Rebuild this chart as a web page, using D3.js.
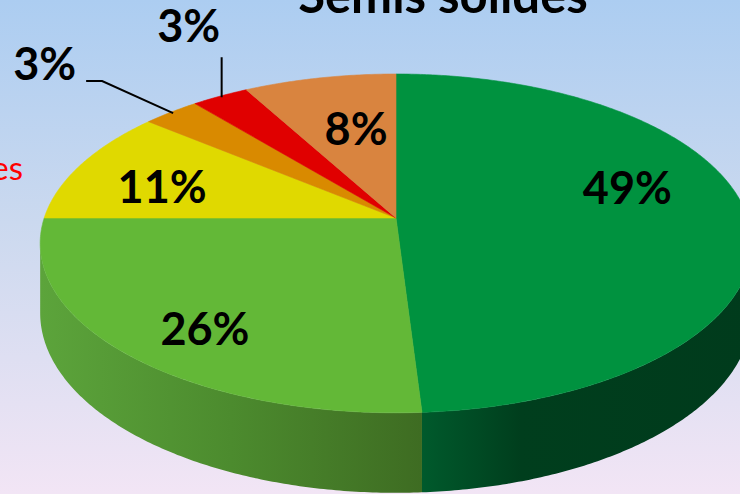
<!DOCTYPE html>
<html>
<head>
<meta charset="utf-8">
<script src="https://cdn.jsdelivr.net/npm/d3@7"></script>
<style>
  html, body { margin: 0; padding: 0; }
  body { width: 740px; height: 494px; overflow: hidden; }
</style>
</head>
<body>
<script>
// slice data, clockwise from 12 o'clock
var shares = [49, 26, 11, 3, 3, 8];
var labels = ["49%", "26%", "11%", "3%", "3%", "8%"];
var title = "Semis solides";
var legendBit = "es"; // the only visible part of a cut-off red legend text

// colours for top faces and the side walls (left -> right)
var topColors = ["#00923f", "#63b837", "#e0d900", "#d98a00", "#e00000", "#d9843f"];
var sideColors = [["#005a2c", "#003e1d", "#003b1c"], ["#5ca43b", "#4c8b2e", "#3e6c22"],
                  ["#b0aa00", "#9a9400", "#8a8500"], ["#a86b00", "#a06500", "#985f00"],
                  ["#b00000", "#a00000", "#900000"], ["#a86430", "#a05f2c", "#985a28"]];

var w = 740, h = 494;

// projection of the tilted disc (with a bit of perspective)
var cx = 396, cy = 218; // where the slices meet
var A = 351.8, B = 165.6; // horizontal / depth radius
var persp = 0.15;
var depth = 68; // wall height

function proj(theta, r, z) { // theta from 12 o'clock, clockwise
  var u = r * Math.sin(theta), v = -r * Math.cos(theta);
  var k = 1 / (1 - persp * v);
  return [cx + A * u * k, cy + (B * v + depth * z) * k];
}

var svg = d3.select("body").append("svg")
  .attr("width", w)
  .attr("height", h);

var defs = svg.append("defs");

var bg = defs.append("linearGradient")
  .attr("id", "bg")
  .attr("x1", 0).attr("y1", 0).attr("x2", 0).attr("y2", 1);
bg.append("stop").attr("offset", 0).attr("stop-color", "#accdf1");
bg.append("stop").attr("offset", 0.45).attr("stop-color", "#cbd9ef");
bg.append("stop").attr("offset", 1).attr("stop-color", "#f2e5f5");

svg.append("rect")
  .attr("width", w)
  .attr("height", h)
  .attr("fill", "url(#bg)");

var pie = d3.pie().sort(null).value(function(d) { return d; });
var arcs = pie(shares);

var line = d3.line();

function arcPoints(a0, a1, r, z) {
  var n = Math.max(2, Math.ceil((a1 - a0) / 0.01));
  return d3.range(n + 1).map(function(i) {
    return proj(a0 + (a1 - a0) * i / n, r, z);
  });
}

// silhouette angles (left/right outline of the disc)
var thR = Math.acos(-persp), thL = 2 * Math.PI - Math.acos(-persp);

// side walls
arcs.forEach(function(d, i) {
  var a0 = Math.max(d.startAngle, thR), a1 = Math.min(d.endAngle, thL);
  if (a1 <= a0) return;
  var topPts = arcPoints(a0, a1, 1, 0);
  var botPts = arcPoints(a0, a1, 1, 1).reverse();
  var xs = topPts.map(function(p) { return p[0]; });
  var x0 = d3.min(xs), x1 = d3.max(xs);

  var g = defs.append("linearGradient")
    .attr("id", "side" + i)
    .attr("gradientUnits", "userSpaceOnUse")
    .attr("x1", i == 0 ? x0 : x1).attr("x2", i == 0 ? x1 : x0)
    .attr("y1", 0).attr("y2", 0);
  // green wall: dark quickly; light green wall: lighter on the left
  var offs = i == 0 ? [0, 0.3, 1] : [0, 0.5, 1];
  var cols = i == 0 ? sideColors[i] : sideColors[i].slice().reverse();
  offs.forEach(function(o, j) {
    g.append("stop").attr("offset", o).attr("stop-color", cols[j]);
  });

  svg.append("path")
    .attr("d", line(topPts.concat(botPts)) + "Z")
    .attr("fill", "url(#side" + i + ")");
});

// top faces
arcs.forEach(function(d, i) {
  var pts = [proj(0, 0, 0)].concat(arcPoints(d.startAngle, d.endAngle, 1, 0));
  svg.append("path")
    .attr("d", line(pts) + "Z")
    .attr("fill", topColors[i])
    .attr("stroke", topColors[i])
    .attr("stroke-width", 0.6);
});

// label placement (manual, like the original)
var labelR = [0.66, 0.73, 0.733, 0.99, 0.99, 0.489];
var labelDy = [-11, 31, 25, 0, 0, 0];

var font = "Lato, 'Open Sans', sans-serif";

arcs.forEach(function(d, i) {
  var mid = (d.startAngle + d.endAngle) / 2;
  var p = proj(mid, labelR[i], 0);
  if (d.data > 5) {
    svg.append("text")
      .attr("x", p[0])
      .attr("y", p[1] + labelDy[i])
      .attr("text-anchor", "middle")
      .attr("font-family", font)
      .attr("font-weight", "bold")
      .attr("font-size", "45px")
      .attr("fill", "#000")
      .text(labels[i]);
  } else {
    // small slices get a leader line
    var pts, tx, ty, anchor;
    if (i == 3) {
      pts = [p, [p[0] - 71, p[1] - 32], [p[0] - 87, p[1] - 32]];
      tx = p[0] - 97; ty = p[1] - 33; anchor = "end";
    } else {
      pts = [p, [p[0], p[1] - 40]];
      tx = p[0] - 33; ty = p[1] - 55; anchor = "middle";
    }
    svg.append("path")
      .attr("d", line(pts))
      .attr("fill", "none")
      .attr("stroke", "#000")
      .attr("stroke-width", 2);
    svg.append("text")
      .attr("x", tx)
      .attr("y", ty)
      .attr("text-anchor", anchor)
      .attr("font-family", font)
      .attr("font-weight", "bold")
      .attr("font-size", "45px")
      .attr("fill", "#000")
      .text(labels[i]);
  }
});

// title (cut at the top edge)
svg.append("text")
  .attr("x", 443)
  .attr("y", 13)
  .attr("text-anchor", "middle")
  .attr("font-family", font)
  .attr("font-weight", "bold")
  .attr("font-size", "49px")
  .attr("fill", "#000")
  .text(title);

// red legend text, cut at the left edge
svg.append("text")
  .attr("x", 23)
  .attr("y", 180)
  .attr("text-anchor", "end")
  .attr("font-family", font)
  .attr("font-size", "33px")
  .attr("fill", "#ff0000")
  .text(legendBit);
</script>
</body>
</html>
